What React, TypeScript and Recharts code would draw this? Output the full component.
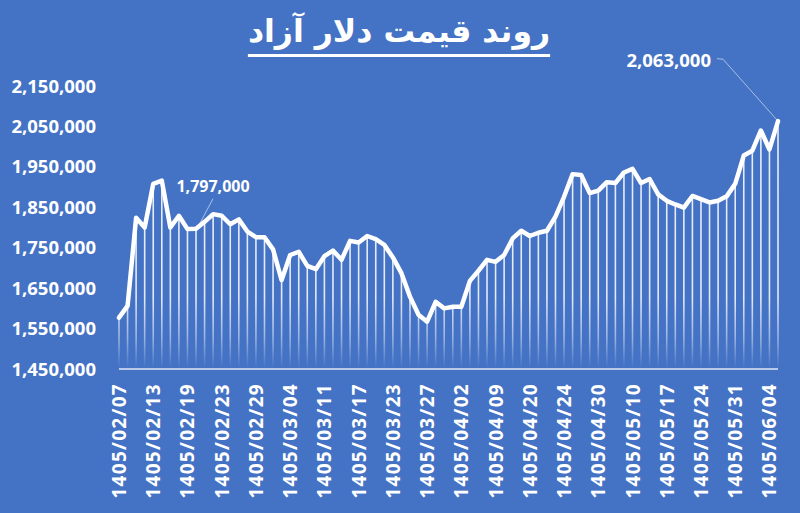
import React from 'react';
import { LineChart, Line, XAxis, YAxis, ReferenceLine } from 'recharts';

const dates: string[] = [
  '1405/02/07', '1405/02/08', '1405/02/09', '1405/02/12', '1405/02/13', '1405/02/14', '1405/02/15', '1405/02/16',
  '1405/02/19', '1405/02/20', '1405/02/21', '1405/02/22', '1405/02/23', '1405/02/26', '1405/02/27', '1405/02/28',
  '1405/02/29', '1405/02/30', '1405/02/31', '1405/03/03', '1405/03/04', '1405/03/05', '1405/03/06', '1405/03/10',
  '1405/03/11', '1405/03/12', '1405/03/13', '1405/03/16', '1405/03/17', '1405/03/18', '1405/03/19', '1405/03/20',
  '1405/03/23', '1405/03/24', '1405/03/25', '1405/03/26', '1405/03/27', '1405/03/30', '1405/03/31', '1405/04/01',
  '1405/04/02', '1405/04/03', '1405/04/06', '1405/04/07', '1405/04/09', '1405/04/10', '1405/04/13', '1405/04/14',
  '1405/04/20', '1405/04/21', '1405/04/22', '1405/04/23', '1405/04/24', '1405/04/27', '1405/04/28', '1405/04/29',
  '1405/04/30', '1405/05/03', '1405/05/04', '1405/05/05', '1405/05/10', '1405/05/11', '1405/05/12', '1405/05/13',
  '1405/05/17', '1405/05/18', '1405/05/19', '1405/05/20', '1405/05/24', '1405/05/25', '1405/05/26', '1405/05/27',
  '1405/05/31', '1405/06/01', '1405/06/02', '1405/06/03', '1405/06/04', '1405/06/05',
];

const prices: number[] = [
  1577000, 1606000, 1824000, 1800000, 1908000, 1916000, 1800000, 1829000,
  1796000, 1797000, 1814000, 1833000, 1829000, 1808000, 1820000, 1790000,
  1776000, 1776000, 1746000, 1670000, 1732000, 1740000, 1705000, 1697000,
  1729000, 1743000, 1720000, 1767000, 1763000, 1779000, 1771000, 1757000,
  1726000, 1687000, 1629000, 1584000, 1567000, 1616000, 1600000, 1604000,
  1604000, 1668000, 1693000, 1720000, 1715000, 1732000, 1773000, 1792000,
  1779000, 1787000, 1792000, 1827000, 1876000, 1932000, 1930000, 1885000,
  1891000, 1912000, 1910000, 1936000, 1945000, 1910000, 1920000, 1882000,
  1866000, 1857000, 1849000, 1878000, 1870000, 1862000, 1866000, 1877000,
  1908000, 1978000, 1990000, 2040000, 1993000, 2063000,
];

const yTicks: number[] = [1450000, 1550000, 1650000, 1750000, 1850000, 1950000, 2050000, 2150000];
const labelledIndexes: number[] = [9, 77];
const title = 'روند قیمت دلار آزاد';

const data = dates.map((d, i) => ({ date: d, price: prices[i] }));
const Y_MIN = yTicks[0];
const Y_MAX = yTicks[yTicks.length - 1];

const BG = '#4472C4';
const FONT = '"Open Sans", "Liberation Sans", sans-serif';
const fmt = (v: number) => v.toLocaleString('en-US');

const XTick = (props: any) => {
  const { x, y, payload } = props;
  return (
    <text
      x={x}
      y={y}
      transform={`rotate(-90 ${x} ${y})`}
      textAnchor="end"
      dominantBaseline="central"
      fill="#ffffff"
      fontFamily={FONT}
      fontWeight={700}
      fontSize={19}
      letterSpacing={1.3}
    >
      {payload.value}
    </text>
  );
};

const PointLabel = (props: any) => {
  const { x, y, index, value } = props;
  if (!labelledIndexes.includes(index)) return null;
  const leader = 'rgba(255,255,255,0.55)';
  if (index === labelledIndexes[0]) {
    return (
      <g>
        <line x1={x + 2} y1={y - 2} x2={x + 17} y2={y - 30} stroke={leader} strokeWidth={1} />
        <text x={x + 17} y={y - 37} textAnchor="middle" fill="#fff" fontFamily={FONT} fontWeight={700} fontSize={16}>
          {fmt(value)}
        </text>
      </g>
    );
  }
  return (
    <g>
      <polyline points={`${x},${y} ${x - 55},${y - 62} ${x - 61},${y - 62.5}`} fill="none" stroke={leader} strokeWidth={1} />
      <text x={x - 67} y={y - 54.5} textAnchor="end" fill="#fff" fontFamily={FONT} fontWeight={700} fontSize={18.5}>
        {fmt(value)}
      </text>
    </g>
  );
};

export default function App() {
  return (
    <div style={{ position: 'fixed', left: 0, top: 0, width: 800, height: 513, background: BG, overflow: 'hidden' }}>
      <div
        style={{
          position: 'absolute',
          left: 0,
          top: 11,
          width: 798,
          textAlign: 'center',
          direction: 'rtl',
          color: '#fff',
          fontFamily: '"DejaVu Sans", sans-serif',
          fontWeight: 700,
          fontSize: 31.5,
          lineHeight: '40px',
          textDecoration: 'underline',
          textDecorationThickness: '3px',
          textUnderlineOffset: '12px',
        }}
      >
        {title}
      </div>
      <LineChart width={800} height={513} data={data} margin={{ top: 86, right: 22, bottom: 0, left: 0 }}>
        <defs>
          <linearGradient id="dropGrad" gradientUnits="userSpaceOnUse" x1="0" y1="0%" x2="0" y2="100%">
            <stop offset="0%" stopColor="#ffffff" stopOpacity={0.9} />
            <stop offset="58%" stopColor="#ffffff" stopOpacity={0.85} />
            <stop offset="66%" stopColor="#ffffff" stopOpacity={0.45} />
            <stop offset="71.5%" stopColor="#ffffff" stopOpacity={0.02} />
          </linearGradient>
        </defs>
        <XAxis
          dataKey="date"
          interval={3}
          height={144}
          tickSize={0}
          tickMargin={14}
          tickLine={false}
          axisLine={{ stroke: '#dfe6f4', strokeWidth: 1.5 }}
          tick={<XTick />}
        />
        <YAxis
          domain={[Y_MIN, Y_MAX]}
          ticks={yTicks}
          width={119}
          tickSize={0}
          tickMargin={23}
          tickLine={false}
          axisLine={false}
          tickFormatter={fmt}
          tick={{ fill: '#ffffff', fontFamily: FONT, fontWeight: 700, fontSize: 18.5 }}
        />
        {data.map((d) => (
          <ReferenceLine
            key={d.date}
            segment={[
              { x: d.date, y: Y_MIN },
              { x: d.date, y: d.price },
            ]}
            stroke="url(#dropGrad)"
            strokeWidth={1.6}
            ifOverflow="visible"
          />
        ))}
        <Line
          type="linear"
          dataKey="price"
          stroke="#ffffff"
          strokeWidth={4.5}
          strokeLinejoin="round"
          strokeLinecap="round"
          dot={false}
          activeDot={false}
          isAnimationActive={false}
          label={<PointLabel />}
        />
      </LineChart>
    </div>
  );
}
